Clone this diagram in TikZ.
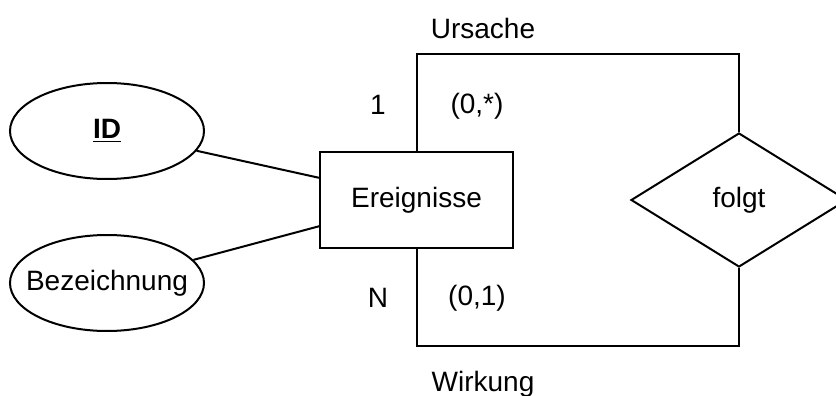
\documentclass[tikz,border=0pt]{standalone}
\usepackage{fontspec}
\setmainfont{Liberation Sans}
\usetikzlibrary{shapes.geometric}

\begin{document}
\begin{tikzpicture}[x=0.5pt,y=-0.5pt,line width=1pt,
    font=\fontsize{14}{17}\selectfont,
    entity/.style={draw,fill=white,rectangle,inner sep=0pt,minimum width=96.5pt,minimum height=48pt},
    attrib/.style={draw,fill=white,ellipse,inner sep=0pt,minimum width=97pt,minimum height=48pt},
    relship/.style={draw,fill=white,diamond,inner sep=0pt,minimum width=108pt,minimum height=67pt}]
    \useasboundingbox (0,0) rectangle (836,396);

    \node[entity] (ereignisse) at (416.5,200) {Ereignisse};
    \node[attrib] (id) at (107,131) {\makebox[0pt]{\underline{\textbf{ID}}}};
    \node[attrib] (bez) at (107,283) {\makebox[0pt]{Bezeichnung}};
    \node[relship] (folgt) at (739,200) {\makebox[0pt]{folgt}};

    % Attribute
    \coordinate (e1) at (320,178);
    \coordinate (e2) at (320,226);
    \draw (id) -- (e1);
    \draw (bez) -- (e2);

    % Beziehung
    \coordinate (oben) at (739,54);
    \coordinate (unten) at (739,346);
    \draw (ereignisse.north) |- (oben) -- (folgt.north);
    \draw (ereignisse.south) |- (unten) -- (folgt.south);

    \node (ursache) at (483,28) {Ursache};
    \node (wirkung) at (483,384) {Wirkung};
    \node (k1) at (378,105) {1};
    \node (kn) at (378,298) {N};
    \node (m1) at (477,106) {(0,*)};
    \node (m2) at (477,298) {(0,1)};
\end{tikzpicture}
\end{document}
